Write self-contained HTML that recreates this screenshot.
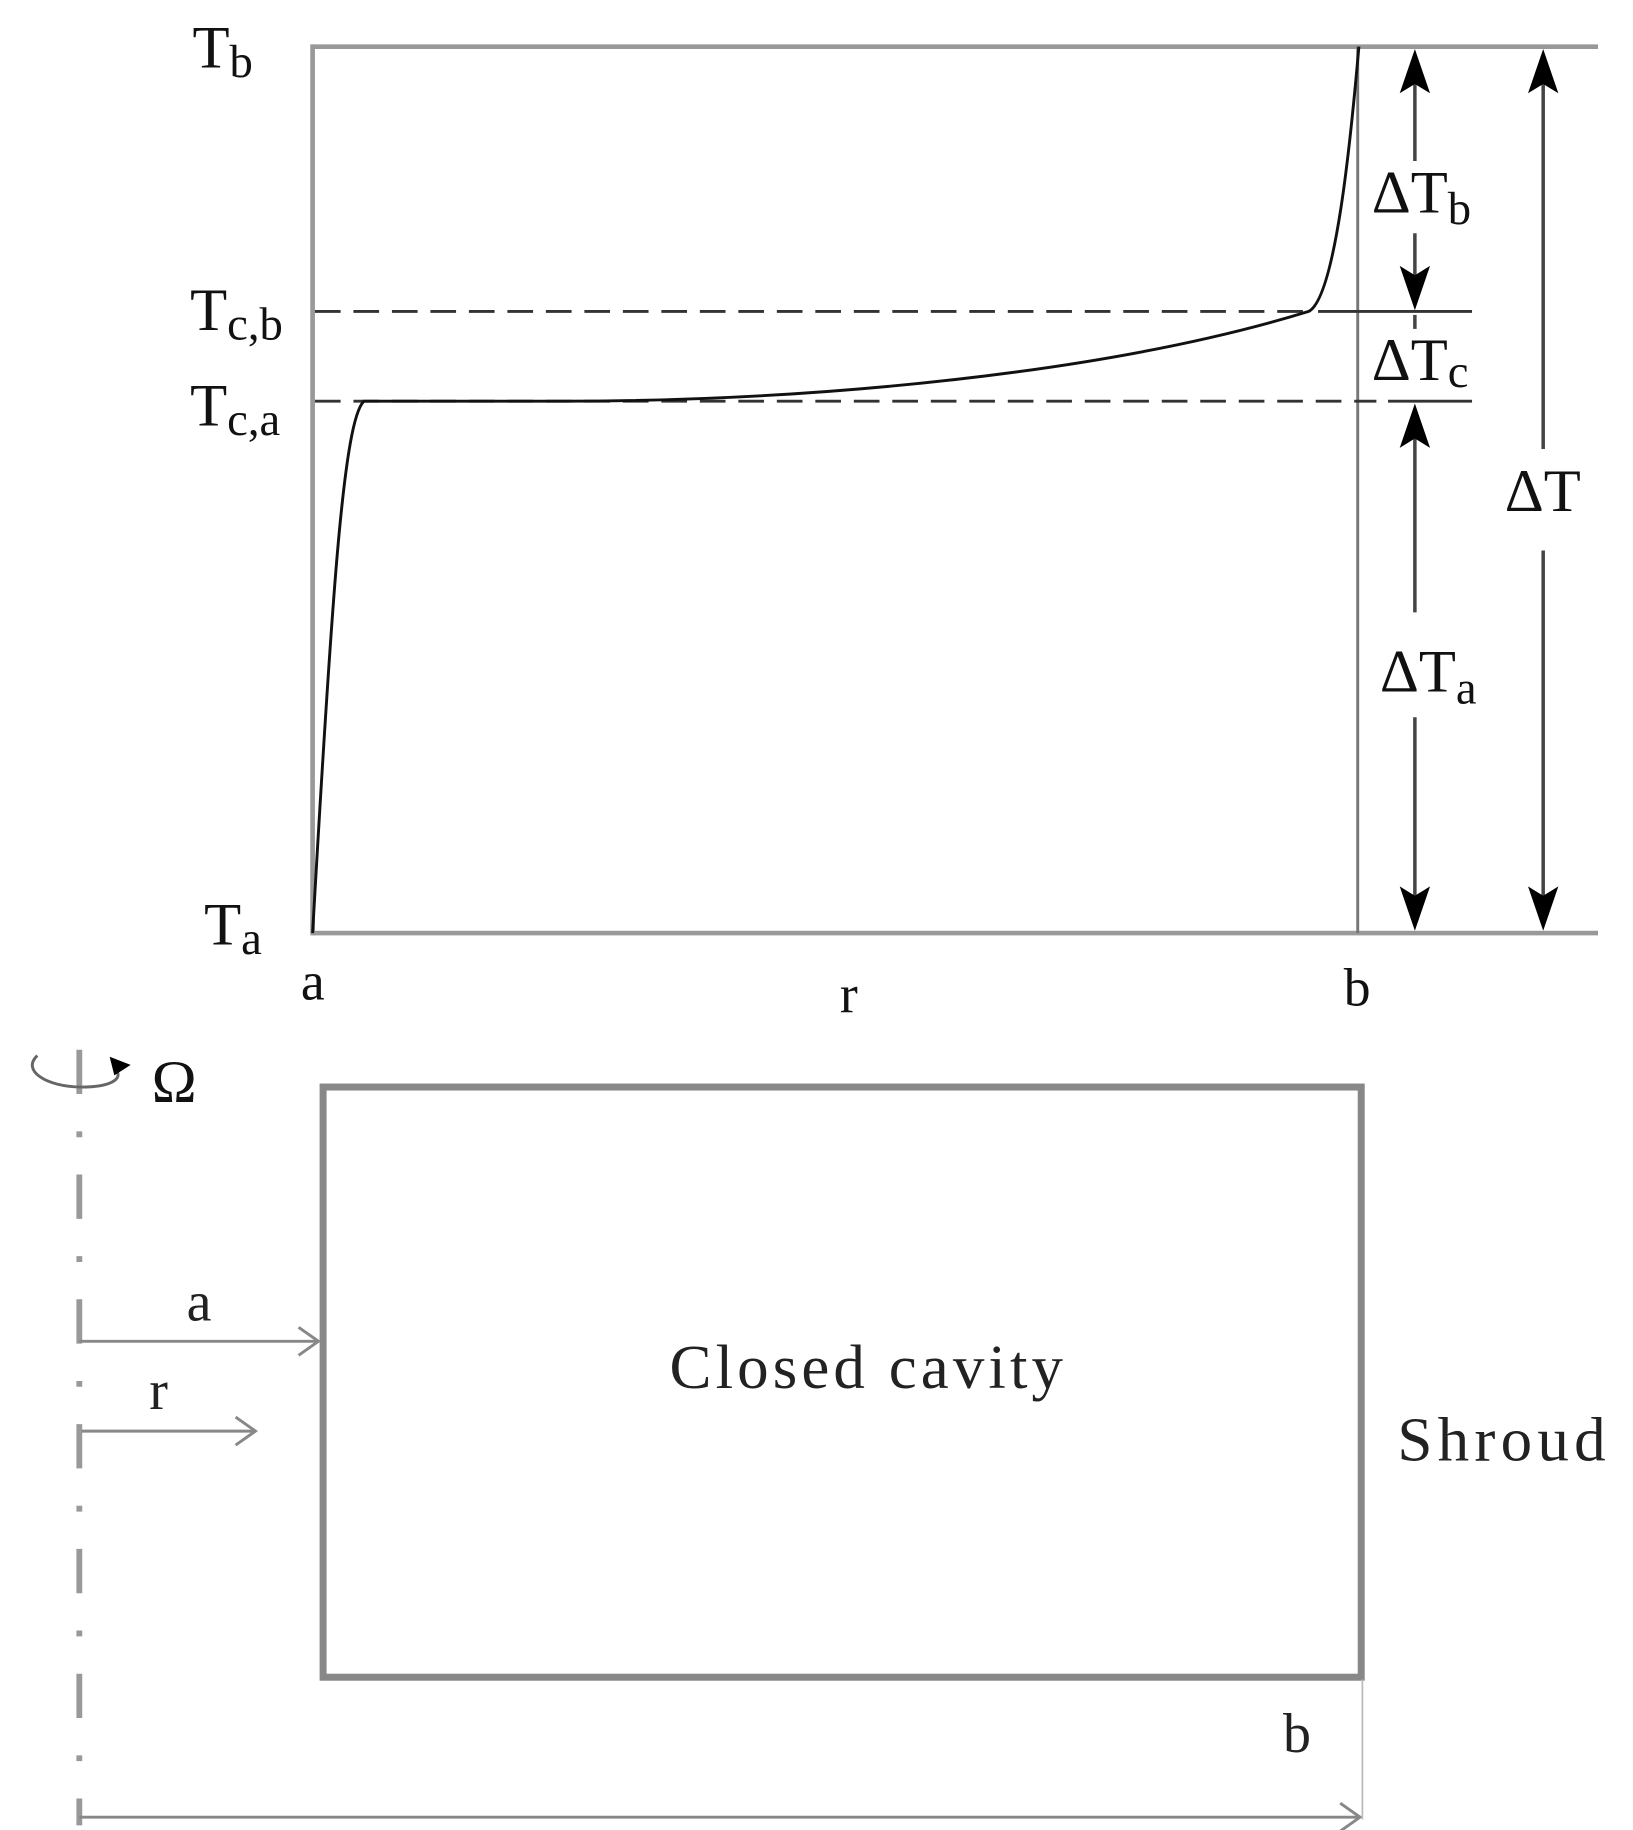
<!DOCTYPE html>
<html><head><meta charset="utf-8"><style>html,body{margin:0;padding:0;background:#fff;}svg{display:block}</style></head>
<body>
<svg width="1633" height="1830" viewBox="0 0 1400 1569" preserveAspectRatio="none" xmlns="http://www.w3.org/2000/svg" font-family="Liberation Serif, serif">
<g stroke="#999" stroke-width="4" fill="none">
<line x1="268" y1="40" x2="1370" y2="40"/>
<line x1="268" y1="800" x2="1370" y2="800"/>
<line x1="268" y1="38" x2="268" y2="802"/>
</g>
<line x1="1164" y1="40" x2="1164" y2="800" stroke="#777" stroke-width="2.5"/>
<g stroke="#333" stroke-width="2.5">
<line x1="270" y1="267" x2="1120" y2="267" stroke-dasharray="22,11"/>
<line x1="1130" y1="267" x2="1262" y2="267"/>
<line x1="270" y1="344" x2="1180" y2="344" stroke-dasharray="22,11"/>
<line x1="1190" y1="344" x2="1262" y2="344"/>
</g>
<path d="M268,800 C285,500 295,360 312,344 L480,344 C700,344 950,320 1122,267 C1145,255 1158,120 1165,40" stroke="#111" stroke-width="2.5" fill="none"/>
<g stroke="#444" stroke-width="3" fill="none">
<line x1="1213" y1="60" x2="1213" y2="138"/>
<line x1="1213" y1="200" x2="1213" y2="250"/>
<line x1="1213" y1="270" x2="1213" y2="282"/>
<line x1="1213" y1="365" x2="1213" y2="525"/>
<line x1="1213" y1="615" x2="1213" y2="780"/>
<line x1="1323" y1="60" x2="1323" y2="385"/>
<line x1="1323" y1="472" x2="1323" y2="780"/>
</g>
<g fill="#000">
<path d="M1213,42 L1200,80 L1213,72 L1226,80 z"/>
<path d="M1213,266 L1200,228 L1213,236 L1226,228 z"/>
<path d="M1213,346 L1200,384 L1213,376 L1226,384 z"/>
<path d="M1213,798 L1200,760 L1213,768 L1226,760 z"/>
<path d="M1323,42 L1310,80 L1323,72 L1336,80 z"/>
<path d="M1323,798 L1310,760 L1323,768 L1336,760 z"/>
</g>
<g font-size="52" fill="#111">
<text x="165" y="58">T<tspan font-size="40" dy="8">b</tspan></text>
<text x="163" y="283">T<tspan font-size="40" dy="8">c,b</tspan></text>
<text x="163" y="365">T<tspan font-size="40" dy="8">c,a</tspan></text>
<text x="175" y="810">T<tspan font-size="40" dy="8">a</tspan></text>
<text x="258" y="857" font-size="46">a</text>
<text x="720" y="868" font-size="46">r</text>
<text x="1152" y="862" font-size="46">b</text>
<text x="1176" y="182">ΔT<tspan font-size="40" dy="10">b</tspan></text>
<text x="1176" y="326">ΔT<tspan font-size="40" dy="6">c</tspan></text>
<text x="1183" y="593">ΔT<tspan font-size="40" dy="10">a</tspan></text>
<text x="1290" y="438">ΔT</text>
</g>
<rect x="277" y="932" width="890" height="506" fill="none" stroke="#888" stroke-width="6"/>
<line x1="68" y1="900" x2="68" y2="1565" stroke="#999" stroke-width="5" stroke-dasharray="38,32,5,32"/>
<path d="M32,905 C18,918 40,932 70,932 C95,932 105,925 100,918" stroke="#666" stroke-width="2.5" fill="none"/>
<path d="M94,906 L112,913 L98,922 z" fill="#000"/>
<text x="130" y="945" font-size="52" fill="#111">Ω</text>
<g stroke="#888" stroke-width="2.5" fill="none">
<line x1="68" y1="1150" x2="273" y2="1150"/>
<path d="M256,1138 L273,1150 L256,1162"/>
<line x1="70" y1="1227" x2="219" y2="1227"/>
<path d="M202,1215 L219,1227 L202,1239"/>
<line x1="68" y1="1558" x2="1166" y2="1558"/>
<path d="M1149,1546 L1166,1558 L1149,1570"/>
<line x1="1168" y1="1440" x2="1168" y2="1560" stroke="#bbb" stroke-width="1.5"/>
</g>
<g fill="#222" font-size="48">
<text x="160" y="1132">a</text>
<text x="128" y="1208">r</text>
<text x="1100" y="1502">b</text>
<text x="574" y="1190" font-size="54" letter-spacing="3.5">Closed cavity</text>
<text x="1198" y="1252" font-size="54" letter-spacing="4.5">Shroud</text>
</g>
</svg>
</body></html>
